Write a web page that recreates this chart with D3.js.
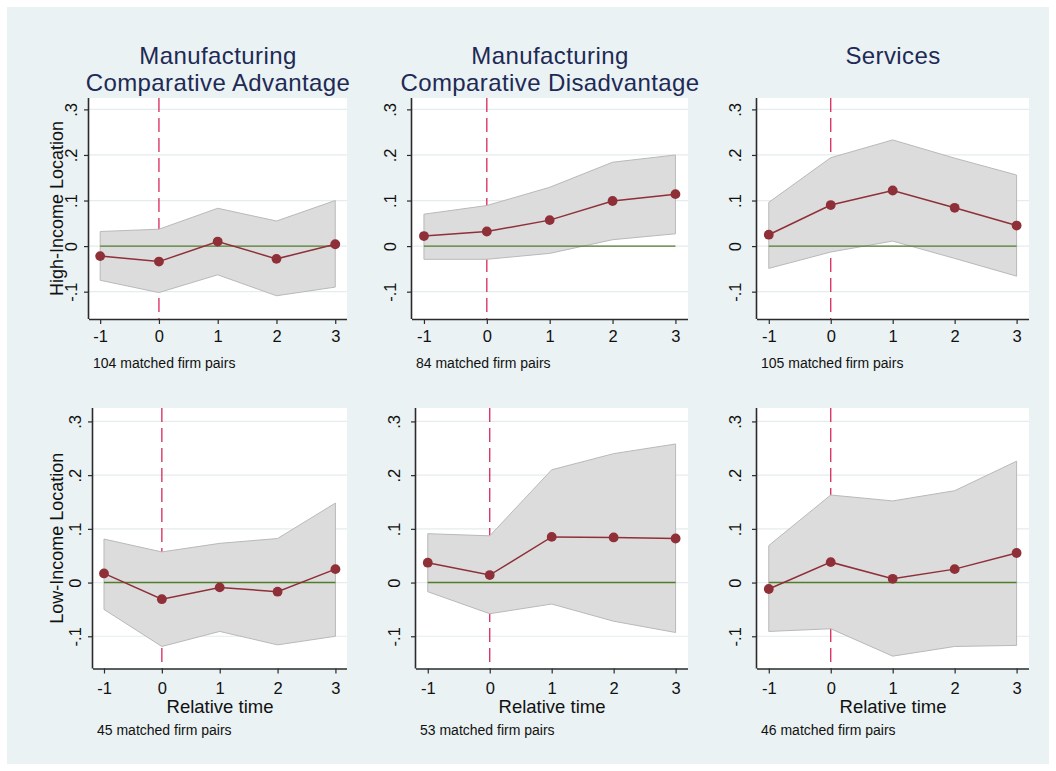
<!DOCTYPE html>
<html>
<head>
<meta charset="utf-8">
<script src="https://cdn.jsdelivr.net/npm/d3@7"></script>
<style>
  body { margin: 0; background: #ffffff; }
  svg { display: block; }
  text { font-family: "Liberation Sans", Arial, Helvetica, sans-serif; }
</style>
</head>
<body>
<svg id="chart" width="1056" height="771"></svg>
<script>
// ---- data -------------------------------------------------------------
const relTime = [-1, 0, 1, 2, 3];
const xTickLabels = ["-1", "0", "1", "2", "3"];
const yTicks = [-0.1, 0, 0.1, 0.2, 0.3];
const yTickLabels = ["-.1", "0", ".1", ".2", ".3"];
const columnTitles = [
  ["Manufacturing", "Comparative Advantage"],
  ["Manufacturing", "Comparative Disadvantage"],
  ["Services"]
];
const rowTitles = ["High-Income Location", "Low-Income Location"];
const xAxisTitle = "Relative time";
const pairCounts = [104, 84, 105, 45, 53, 46];

// High-income location
const estHighAdv   = [-0.022, -0.034, 0.010, -0.028, 0.004];
const upHighAdv    = [0.032, 0.037, 0.083, 0.055, 0.100];
const loHighAdv    = [-0.075, -0.102, -0.063, -0.109, -0.090];

const estHighDis   = [0.022, 0.032, 0.057, 0.099, 0.114];
const upHighDis    = [0.070, 0.089, 0.129, 0.184, 0.200];
const loHighDis    = [-0.029, -0.029, -0.016, 0.014, 0.027];

const estHighSrv   = [0.025, 0.090, 0.122, 0.084, 0.045];
const upHighSrv    = [0.096, 0.194, 0.233, 0.193, 0.156];
const loHighSrv    = [-0.049, -0.013, 0.011, -0.027, -0.066];

// Low-income location
const estLowAdv    = [0.017, -0.031, -0.009, -0.017, 0.025];
const upLowAdv     = [0.081, 0.057, 0.073, 0.082, 0.148];
const loLowAdv     = [-0.050, -0.119, -0.091, -0.116, -0.100];

const estLowDis    = [0.037, 0.014, 0.085, 0.084, 0.082];
const upLowDis     = [0.091, 0.087, 0.210, 0.240, 0.258];
const loLowDis     = [-0.017, -0.058, -0.040, -0.072, -0.093];

const estLowSrv    = [-0.012, 0.038, 0.007, 0.025, 0.055];
const upLowSrv     = [0.069, 0.163, 0.152, 0.171, 0.226];
const loLowSrv     = [-0.091, -0.086, -0.137, -0.119, -0.117];

// ---- layout & style ---------------------------------------------------
const W = 1056, H = 771;
const colors = {
  bg: "#eaf2f3", plot: "#ffffff", grid: "#e4eced",
  band: "#dcdcdc", bandEdge: "#b9b9b9",
  est: "#8f2f38", zero: "#4f7d2a", event: "#d8285a",
  axis: "#2b2b2b", title: "#1e2a55", text: "#111111"
};
const xDomain = [-1.19, 3.2];
const yDomain = [-0.16, 0.325];

// plot rectangles: x extent per row/column, y extent per row
const colX = [[[89, 347], [412, 688], [757, 1029]],
              [[93, 347], [416, 688], [757, 1029]]];
const rowY = [[319, 98], [668.5, 408]];
const tickLabelOffset = [12, 16, 16];
const xTickPadding = [6, 9];

const panels = [
  { row: 0, col: 0, est: estHighAdv, up: upHighAdv, lo: loHighAdv, n: pairCounts[0] },
  { row: 0, col: 1, est: estHighDis, up: upHighDis, lo: loHighDis, n: pairCounts[1] },
  { row: 0, col: 2, est: estHighSrv, up: upHighSrv, lo: loHighSrv, n: pairCounts[2] },
  { row: 1, col: 0, est: estLowAdv,  up: upLowAdv,  lo: loLowAdv,  n: pairCounts[3] },
  { row: 1, col: 1, est: estLowDis,  up: upLowDis,  lo: loLowDis,  n: pairCounts[4] },
  { row: 1, col: 2, est: estLowSrv,  up: upLowSrv,  lo: loLowSrv,  n: pairCounts[5] }
];

const svg = d3.select("#chart");
svg.append("rect").attr("x", 0).attr("y", 0).attr("width", W).attr("height", H).attr("fill", "#ffffff");
svg.append("rect").attr("x", 7).attr("y", 7).attr("width", 1042).attr("height", 757).attr("fill", colors.bg);

// column titles, one text element per line
columnTitles.forEach((lines, c) => {
  const [x0, x1] = colX[0][c];
  lines.forEach((s, i) => {
    svg.append("text")
      .attr("x", (x0 + x1) / 2).attr("y", 63.5 + i * 27)
      .attr("text-anchor", "middle")
      .attr("font-size", 24).attr("letter-spacing", 0.4)
      .attr("fill", colors.title)
      .text(s);
  });
});

panels.forEach(p => {
  const [x0, x1] = colX[p.row][p.col];
  const [yb, yt] = rowY[p.row];
  const x = d3.scaleLinear().domain(xDomain).range([x0, x1]);
  const y = d3.scaleLinear().domain(yDomain).range([yb, yt]);
  const g = svg.append("g");

  // plot region
  g.append("rect").attr("x", x0).attr("y", yt).attr("width", x1 - x0).attr("height", yb - yt).attr("fill", colors.plot);

  // horizontal grid
  g.append("g").selectAll("line").data(yTicks).join("line")
    .attr("x1", x0).attr("x2", x1)
    .attr("y1", d => y(d)).attr("y2", d => y(d))
    .attr("stroke", colors.grid).attr("stroke-width", 1.2);

  // event line at relative time 0
  g.append("line")
    .attr("x1", x(0)).attr("x2", x(0)).attr("y1", yt).attr("y2", yb)
    .attr("stroke", colors.event).attr("stroke-width", 1.3)
    .attr("stroke-dasharray", "14,6");

  // confidence band
  const rows = relTime.map((t, i) => ({ t, est: p.est[i], up: p.up[i], lo: p.lo[i] }));
  g.append("path").datum(rows)
    .attr("d", d3.area().x(d => x(d.t)).y0(d => y(d.lo)).y1(d => y(d.up)))
    .attr("fill", colors.band).attr("stroke", colors.bandEdge).attr("stroke-width", 1);

  // zero reference line
  g.append("path").datum(relTime)
    .attr("d", d3.line().x(d => x(d)).y(() => y(0)))
    .attr("stroke", colors.zero).attr("stroke-width", 1.4).attr("fill", "none");

  // point estimates
  g.append("path").datum(rows)
    .attr("d", d3.line().x(d => x(d.t)).y(d => y(d.est)))
    .attr("stroke", colors.est).attr("stroke-width", 1.5).attr("fill", "none");
  g.append("g").selectAll("circle").data(rows).join("circle")
    .attr("cx", d => x(d.t)).attr("cy", d => y(d.est)).attr("r", 4.9)
    .attr("fill", colors.est);

  // axes
  const xAxis = d3.axisBottom(x).tickValues(relTime)
    .tickFormat((d, i) => xTickLabels[i]).tickSize(5).tickPadding(xTickPadding[p.row]);
  const gx = g.append("g").attr("transform", `translate(0,${yb})`).call(xAxis);
  gx.select(".domain").attr("d", `M${x0},0.5H${x1}`).attr("stroke", colors.axis).attr("stroke-width", 1.6);
  gx.selectAll(".tick line").attr("stroke", colors.axis).attr("stroke-width", 1.2);
  gx.selectAll(".tick text").attr("font-size", 16.5).attr("fill", colors.text)
    .attr("font-family", "'Liberation Sans', Arial, sans-serif");

  const yAxis = d3.axisLeft(y).tickValues(yTicks).tickFormat((d, i) => yTickLabels[i]).tickSize(5);
  const gy = g.append("g").attr("transform", `translate(${x0},0)`).call(yAxis);
  gy.select(".domain").attr("d", `M-0.5,${yt}V${yb}`).attr("stroke", colors.axis).attr("stroke-width", 1.6);
  gy.selectAll(".tick line").attr("stroke", colors.axis).attr("stroke-width", 1.2);
  gy.selectAll(".tick text")
    .attr("x", null).attr("dy", null)
    .attr("transform", `translate(${-tickLabelOffset[p.col]},0) rotate(-90)`)
    .attr("text-anchor", "middle")
    .attr("font-size", 16.5).attr("fill", colors.text)
    .attr("font-family", "'Liberation Sans', Arial, sans-serif");

  // row title on left column
  if (p.col === 0) {
    g.append("text")
      .attr("transform", `translate(63,${(yt + yb) / 2}) rotate(-90)`)
      .attr("text-anchor", "middle").attr("font-size", 18).attr("fill", colors.text)
      .text(rowTitles[p.row]);
  }
  // x-axis title on bottom row
  if (p.row === 1) {
    g.append("text")
      .attr("x", (x0 + x1) / 2).attr("y", 713)
      .attr("text-anchor", "middle").attr("font-size", 18.5).attr("fill", colors.text)
      .text(xAxisTitle);
  }
  // sample note
  g.append("text")
    .attr("x", x0 + 4).attr("y", p.row === 0 ? 368 : 735)
    .attr("font-size", 14).attr("fill", colors.text)
    .text(`${p.n} matched firm pairs`);
});
</script>
</body>
</html>
